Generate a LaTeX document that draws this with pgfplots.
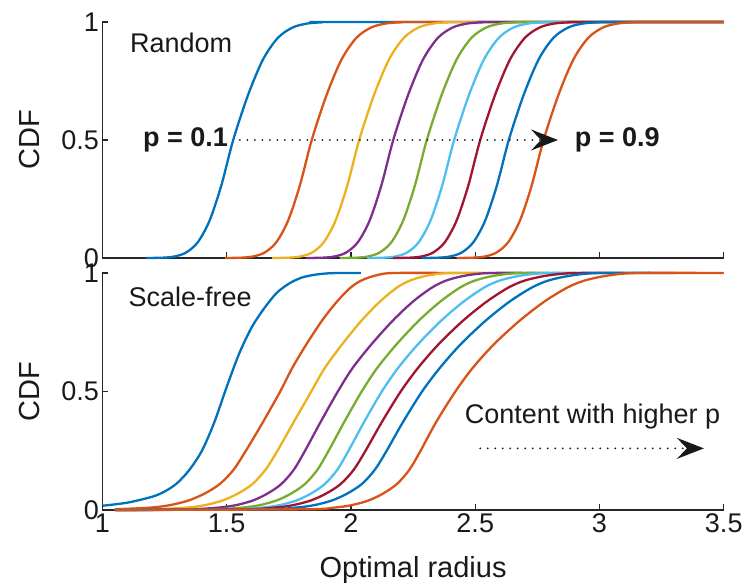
\documentclass[border=0pt]{standalone}
\usepackage{fontspec}
\setmainfont{Liberation Sans}
\usepackage{pgfplots}
\pgfplotsset{compat=1.18}
\usepackage{pgfplotstable}
\usetikzlibrary{arrows.meta}

% MATLAB default line colours
\definecolor{mB}{rgb}{0.000,0.447,0.741}
\definecolor{mO}{rgb}{0.850,0.325,0.098}
\definecolor{mY}{rgb}{0.929,0.694,0.125}
\definecolor{mP}{rgb}{0.494,0.184,0.556}
\definecolor{mG}{rgb}{0.466,0.674,0.188}
\definecolor{mC}{rgb}{0.301,0.745,0.933}
\definecolor{mR}{rgb}{0.635,0.078,0.184}

% Random networks: CDF level y and optimal radius for p = 0.1 ... 0.9
\pgfplotstableread{
y      a      b      c      d      e      f      g      h      i
0      1.176  1.492  1.683  1.820  1.955  2.065  2.170  2.285  2.425
0.0013 1.241  1.557  1.748  1.885  2.020  2.130  2.235  2.350  2.490
0.0062 1.2885 1.6045 1.7955 1.9325 2.0675 2.1775 2.2825 2.3975 2.5375
0.0228 1.336  1.652  1.843  1.980  2.115  2.225  2.330  2.445  2.585
0.0668 1.3835 1.6995 1.8905 2.0275 2.1625 2.2725 2.3775 2.4925 2.6325
0.1587 1.431  1.747  1.938  2.075  2.210  2.320  2.425  2.540  2.680
0.3085 1.4785 1.7945 1.9855 2.1225 2.2575 2.3675 2.4725 2.5875 2.7275
0.5    1.526  1.842  2.033  2.170  2.305  2.415  2.520  2.635  2.775
0.6915 1.586  1.902  2.093  2.230  2.365  2.475  2.580  2.695  2.835
0.8413 1.646  1.962  2.153  2.290  2.425  2.535  2.640  2.755  2.895
0.9332 1.706  2.022  2.213  2.350  2.485  2.595  2.700  2.815  2.955
0.9772 1.766  2.082  2.273  2.410  2.545  2.655  2.760  2.875  3.015
0.9938 1.826  2.142  2.333  2.470  2.605  2.715  2.820  2.935  3.075
0.9987 1.886  2.202  2.393  2.530  2.665  2.775  2.880  2.995  3.135
1      1.946  2.262  2.453  2.590  2.725  2.835  2.940  3.055  3.195
1      3.5    3.5    3.5    3.5    3.5    3.5    3.5    3.5    3.5
}\randomcdf

\pgfplotsset{
  cdfpanel/.style={
    scale only axis, width=621.25pt,
    xmin=1, xmax=3.5, ymin=0, ymax=1,
    axis x line*=bottom, axis y line*=left,
    axis line style={black!85, line width=1.2pt, -},
    tick align=inside, major tick length=6pt,
    tick style={black!85, line width=1.2pt},
    xtick={1,1.5,2,2.5,3,3.5}, ytick={0,0.5,1},
    /pgf/number format/assume math mode=true,
    tick label style={font=\fontsize{27}{32}\selectfont, text=black!90},
    label style={font=\fontsize{29}{34}\selectfont, text=black!90},
    ylabel={CDF},
    ylabel style={at={(axis description cs:-0.1167,0.5)}, anchor=center},
    clip=false,
    every axis plot/.append style={line width=2.3pt, smooth},
  },
}
\tikzset{
  annot/.style={font=\fontsize{27}{32}\selectfont, text=black!90, inner sep=0pt},
  dotarrow/.style={line width=2pt, dash pattern=on 0pt off 7.5pt, line cap=round,
    black!90, -{Stealth[length=27pt, width=21pt, inset=10pt]}},
}

\begin{document}
\begin{tikzpicture}
\useasboundingbox (-102.5pt,-77pt) rectangle (642.5pt,510pt);

% Random
\begin{axis}[cdfpanel, at={(0pt,252pt)}, anchor=south west, height=236pt,
  xticklabels={}]
\addplot[mB] table[x=a, y=y] {\randomcdf};
\addplot[mO] table[x=b, y=y] {\randomcdf};
\addplot[mY] table[x=c, y=y] {\randomcdf};
\addplot[mP] table[x=d, y=y] {\randomcdf};
\addplot[mG] table[x=e, y=y] {\randomcdf};
\addplot[mC] table[x=f, y=y] {\randomcdf};
\addplot[mR] table[x=g, y=y] {\randomcdf};
\addplot[mB] table[x=h, y=y] {\randomcdf};
\addplot[mO] table[x=i, y=y] {\randomcdf};
\node[annot, anchor=west] at (axis cs:1.11,0.91) {Random};
\node[annot, anchor=west, font=\fontsize{27}{32}\selectfont\bfseries] at (axis cs:1.163,0.5) {p = 0.1};
\node[annot, anchor=west, font=\fontsize{27}{32}\selectfont\bfseries] at (axis cs:2.90,0.5) {p = 0.9};
\draw[dotarrow] (axis cs:1.553,0.5) -- (axis cs:2.833,0.5);
\end{axis}

% Scale-free
\begin{axis}[cdfpanel, at={(0pt,0pt)}, anchor=south west, height=237pt,
  xlabel={Optimal radius},
  xlabel style={at={(axis description cs:0.5,0)}, anchor=base, yshift=-67pt}]
\addplot[mB] coordinates {(1.00,0.018)(1.10,0.031)(1.20,0.056)(1.25,0.078)(1.30,0.113)(1.35,0.17)(1.40,0.25)(1.45,0.37)(1.50,0.52)(1.55,0.66)(1.60,0.77)(1.65,0.85)(1.70,0.915)(1.75,0.955)(1.80,0.98)(1.85,0.992)(1.90,0.998)(1.95,1.0)(2.04,1.0)};
\addplot[mO] coordinates {(1.05,0.003)(1.192,0.01)(1.269,0.02)(1.346,0.04)(1.412,0.07)(1.4725,0.11)(1.5275,0.17)(1.577,0.25)(1.6452,0.37)(1.715,0.5)(1.764,0.6)(1.821,0.7)(1.884,0.8)(1.944,0.88)(2.000,0.94)(2.045,0.97)(2.101,0.99)(2.171,1.0)(2.43,1.0)};
\addplot[mY] coordinates {(1.05,0)(1.21,0.003)(1.336,0.01)(1.41,0.02)(1.483,0.04)(1.546,0.07)(1.604,0.11)(1.656,0.17)(1.704,0.25)(1.769,0.37)(1.84,0.5)(1.895,0.6)(1.965,0.7)(2.043,0.8)(2.117,0.88)(2.187,0.94)(2.242,0.97)(2.312,0.99)(2.398,1.0)(2.60,1.0)};
\addplot[mP] coordinates {(1.05,0)(1.345,0.003)(1.465,0.01)(1.535,0.02)(1.605,0.04)(1.665,0.07)(1.72,0.11)(1.77,0.17)(1.815,0.25)(1.877,0.37)(1.947,0.5)(2.007,0.6)(2.083,0.7)(2.169,0.8)(2.250,0.88)(2.328,0.94)(2.388,0.97)(2.465,0.99)(2.560,1.0)(2.75,1.0)};
\addplot[mG] coordinates {(1.05,0)(1.44,0.003)(1.56,0.01)(1.63,0.02)(1.70,0.04)(1.76,0.07)(1.815,0.11)(1.865,0.17)(1.91,0.25)(1.972,0.37)(2.043,0.5)(2.106,0.6)(2.184,0.7)(2.274,0.8)(2.360,0.88)(2.441,0.94)(2.504,0.97)(2.585,0.99)(2.684,1.0)(2.85,1.0)};
\addplot[mC] coordinates {(1.05,0)(1.52,0.003)(1.64,0.01)(1.71,0.02)(1.78,0.04)(1.84,0.07)(1.895,0.11)(1.945,0.17)(1.99,0.25)(2.052,0.37)(2.124,0.5)(2.19,0.6)(2.270,0.7)(2.364,0.8)(2.454,0.88)(2.538,0.94)(2.604,0.97)(2.689,0.99)(2.792,1.0)(2.95,1.0)};
\addplot[mR] coordinates {(1.05,0)(1.565,0.003)(1.691,0.01)(1.7645,0.02)(1.838,0.04)(1.901,0.07)(1.959,0.11)(2.011,0.17)(2.0585,0.25)(2.1236,0.37)(2.20,0.5)(2.27,0.6)(2.353,0.7)(2.452,0.8)(2.547,0.88)(2.636,0.94)(2.705,0.97)(2.794,0.99)(2.903,1.0)(3.10,1.0)};
\addplot[mB] coordinates {(1.05,0)(1.65,0.003)(1.776,0.01)(1.8495,0.02)(1.923,0.04)(1.986,0.07)(2.044,0.11)(2.096,0.17)(2.1435,0.25)(2.2086,0.37)(2.286,0.5)(2.358,0.6)(2.442,0.7)(2.543,0.8)(2.639,0.88)(2.730,0.94)(2.800,0.97)(2.891,0.99)(3.002,1.0)(3.30,1.0)};
\addplot[mO] coordinates {(1.05,0)(1.81,0.003)(1.93,0.01)(2.00,0.02)(2.07,0.04)(2.13,0.07)(2.185,0.11)(2.235,0.17)(2.28,0.25)(2.342,0.37)(2.42,0.5)(2.49,0.6)(2.576,0.7)(2.680,0.8)(2.779,0.88)(2.873,0.94)(2.946,0.97)(3.039,0.99)(3.154,1.0)(3.50,1.0)};
\node[annot, anchor=west] at (axis cs:1.104,0.90) {Scale-free};
\node[annot] at (axis cs:2.972,0.394) {Content with higher p};
\draw[dotarrow] (axis cs:2.52,0.26) -- (axis cs:3.42,0.26);
\end{axis}
\end{tikzpicture}
\end{document}
